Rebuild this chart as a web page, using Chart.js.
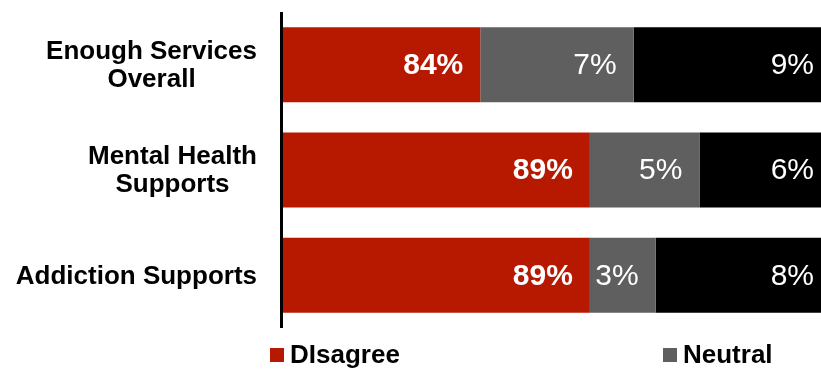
<!DOCTYPE html>
<html><head><meta charset="utf-8">
<script src="https://cdn.jsdelivr.net/npm/chart.js@4/dist/chart.umd.min.js"></script>
<style>
html,body{margin:0;padding:0;overflow:hidden;background:#fff;width:821px;height:369px}
#wrap{position:absolute;left:0;top:0;width:831px;height:369px}
</style>
</head><body><div id="wrap"><canvas id="c"></canvas></div>
<script>
const categories = [['Enough Services','Overall'],['Mental Health','Supports'],['Addiction Supports']];
const seriesNames = ['DIsagree','Neutral','Agree'];
const disagree = [84, 89, 89];
const neutral = [7, 5, 3];
const agree = [9, 6, 8];
const colors = ['#B71800','#5F5F5F','#000000'];
const axisMin = 75, axisMax = 100;

const FONT = "'Liberation Sans', Arial, sans-serif";

const custom = {
  id: 'custom',
  afterDatasetsDraw(chart) {
    const ctx = chart.ctx;
    ctx.save();
    ctx.fillStyle = '#fff';
    ctx.textAlign = 'right';
    ctx.textBaseline = 'middle';
    chart.data.datasets.forEach((ds, di) => {
      const meta = chart.getDatasetMeta(di);
      ctx.font = (di === 0 ? 'bold ' : '') + '30px ' + FONT;
      meta.data.forEach((el, i) => {
        ctx.fillText(ds.data[i] + '%', el.x - 17, el.y + 1);
      });
    });
    ctx.restore();
  },
  afterDraw(chart) {
    const {ctx, chartArea, scales: {y}} = chart;
    ctx.save();
    // y axis line
    ctx.fillStyle = '#000';
    ctx.fillRect(chartArea.left - 3, chartArea.top, 3, chartArea.bottom - chartArea.top);
    // category labels: right-aligned blocks, centered lines
    ctx.font = 'bold 26px ' + FONT;
    ctx.textBaseline = 'middle';
    ctx.textAlign = 'center';
    ctx.fillStyle = '#000';
    categories.forEach((lines, i) => {
      const cy = y.getPixelForTick(i);
      const w = Math.max(...lines.map(l => ctx.measureText(l).width));
      const cx = chartArea.left - 26 - w / 2;
      lines.forEach((l, j) => ctx.fillText(l, cx, cy + 1 + (j - (lines.length - 1) / 2) * 28));
    });
    // legend
    const lx0 = 270, step = 393, ly = 348, box = 14;
    ctx.textAlign = 'left';
    chart.data.datasets.forEach((ds, di) => {
      const x = lx0 + di * step;
      const tw = ctx.measureText(ds.label).width;
      if (x + 20 + tw > chart.width - 10) return;
      ctx.fillStyle = ds.backgroundColor;
      ctx.fillRect(x, ly, box, box);
      ctx.fillStyle = '#000';
      ctx.fillText(ds.label, x + 20, ly + box / 2 + 1);
    });
    ctx.restore();
  }
};

new Chart(document.getElementById('c'), {
  type: 'bar',
  data: {
    labels: categories.map(c => c.join(' ')),
    datasets: [
      {label: seriesNames[0], data: disagree, backgroundColor: colors[0]},
      {label: seriesNames[1], data: neutral, backgroundColor: colors[1]},
      {label: seriesNames[2], data: agree, backgroundColor: colors[2]}
    ]
  },
  options: {
    indexAxis: 'y',
    responsive: true,
    maintainAspectRatio: false,
    animation: false,
    layout: {padding: {top: 12, bottom: 41, left: 0, right: 0}},
    datasets: {bar: {barPercentage: 0.712, categoryPercentage: 1, clip: 0, borderWidth: 0}},
    plugins: {legend: {display: false}, tooltip: {enabled: false}},
    scales: {
      x: {type: 'linear', stacked: true, min: axisMin, max: axisMax, display: false},
      y: {
        stacked: true,
        ticks: {display: false},
        grid: {display: false},
        border: {display: false},
        afterFit(s) { s.width = 283; }
      }
    }
  },
  plugins: [custom]
});
</script>
</body></html>
